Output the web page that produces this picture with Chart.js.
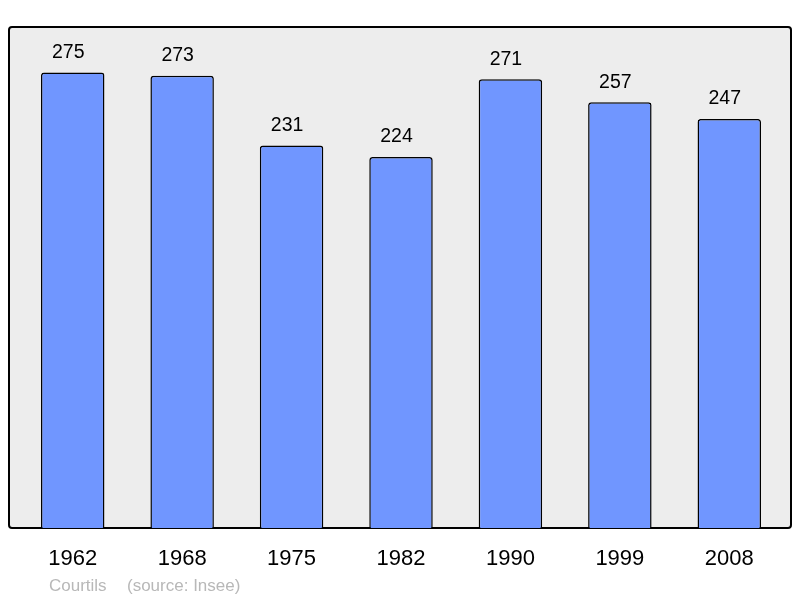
<!DOCTYPE html>
<html>
<head>
<meta charset="utf-8">
<script src="https://cdn.jsdelivr.net/npm/chart.js@4"></script>
<style>
  html, body { margin: 0; padding: 0; background: #fff; }
  #wrap { width: 800px; height: 598px; }
</style>
</head>
<body>
<div id="wrap"><canvas id="popChart" width="800" height="598"></canvas></div>
<script>
const years = ['1962', '1968', '1975', '1982', '1990', '1999', '2008'];
const population = [275, 273, 231, 224, 271, 257, 247];
const commune = 'Courtils';
const source = '(source: Insee)';

// fond gris + cadre, étiquettes des valeurs et des années
const decor = {
  id: 'decor',
  beforeDraw(chart) {
    const c = chart.ctx;
    c.save();
    c.fillStyle = '#ededed';
    c.strokeStyle = '#000';
    c.lineWidth = 2;
    c.beginPath();
    c.roundRect(9, 27, 782, 501, 3);
    c.fill();
    c.stroke();
    c.restore();
  },
  afterDraw(chart) {
    const c = chart.ctx;
    const meta = chart.getDatasetMeta(0);
    const xs = chart.scales.x;
    c.save();
    c.fillStyle = '#000';
    c.textAlign = 'center';
    c.textBaseline = 'middle';
    c.font = '19.5px "Liberation Sans", Arial, sans-serif';
    meta.data.forEach((bar, i) => {
      c.fillText(String(population[i]), bar.x - 4.5, bar.y - 20);
    });
    c.font = '22px "Liberation Sans", Arial, sans-serif';
    years.forEach((y, i) => {
      c.fillText(y, xs.getPixelForTick(i), 558.5);
    });
    c.fillStyle = '#b8b8b8';
    c.textAlign = 'left';
    c.font = '17px "Liberation Sans", Arial, sans-serif';
    c.fillText(commune, 49, 586);
    c.fillText(source, 127, 586);
    c.restore();
  }
};

new Chart(document.getElementById('popChart'), {
  type: 'bar',
  data: {
    labels: years,
    datasets: [{
      data: population,
      backgroundColor: '#7096ff',
      borderColor: '#000',
      borderWidth: 1.5,
      borderRadius: { topLeft: 3, topRight: 3 },
      borderSkipped: 'bottom',
      categoryPercentage: 1,
      barPercentage: 0.58
    }]
  },
  options: {
    responsive: false,
    animation: false,
    events: [],
    layout: { padding: { left: 18, right: 16, top: 27, bottom: 70 } },
    scales: {
      x: { display: false },
      y: { display: false, min: 0, max: 302.5 }
    },
    plugins: {
      legend: { display: false },
      tooltip: { enabled: false }
    }
  },
  plugins: [decor]
});
</script>
</body>
</html>
